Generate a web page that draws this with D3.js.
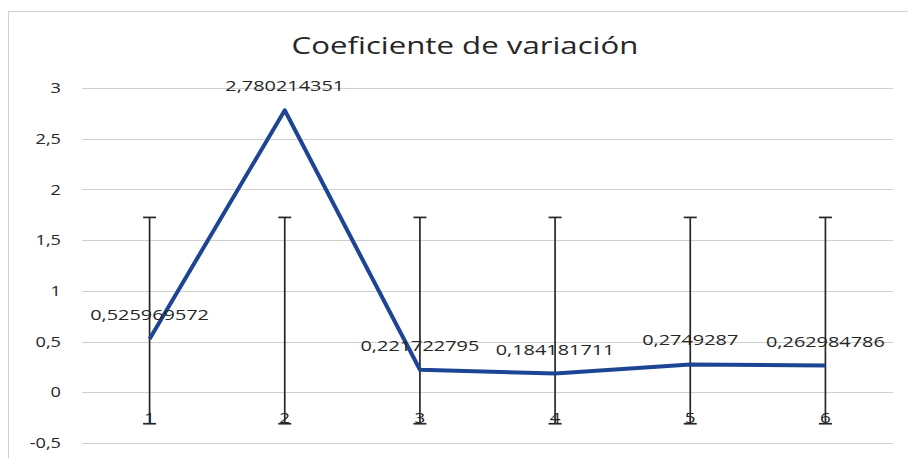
<!DOCTYPE html>
<html>
<head>
<meta charset="utf-8">
<script src="https://cdn.jsdelivr.net/npm/d3@7"></script>
<style>
  html, body { margin: 0; padding: 0; background: #fff; }
  svg { display: block; }
  text { font-family: "Open Sans", "Liberation Sans", sans-serif; fill: #262626; }
</style>
</head>
<body>
<svg id="chart" width="908" height="458"></svg>
<script>
// Categories and series values
const categories = ["1", "2", "3", "4", "5", "6"];
const values = [0.525969572, 2.780214351, 0.221722795, 0.184181711, 0.2749287, 0.262984786];
// Error bar ends (same span drawn for every category)
const errHigh = [1.724, 1.724, 1.724, 1.724, 1.724, 1.724];
const errLow = [-0.31, -0.31, -0.31, -0.31, -0.31, -0.31];
// Value axis ticks
const yTicks = [-0.5, 0, 0.5, 1, 1.5, 2, 2.5, 3];
const title = "Coeficiente de variación";

const W = 908, H = 458;
const plot = { left: 82, right: 893, top: 88, bottom: 443 };
const stretch = 1.3; // horizontal text widening

const svg = d3.select("#chart");

// chart frame
svg.append("rect")
  .attr("x", 8.5).attr("y", 11.5)
  .attr("width", W + 10).attr("height", H + 10)
  .attr("fill", "none").attr("stroke", "#d0d0d0").attr("stroke-width", 1);

const x = d3.scaleBand().domain(categories).range([plot.left, plot.right]);
const xc = c => x(c) + x.bandwidth() / 2;
const y = d3.scaleLinear().domain([-0.5, 3]).range([plot.bottom, plot.top]);

const fmt = v => String(v).replace(".", ",");

// helper: stretched text placed at (px, py)
function stretchedText(sel, px, py) {
  return sel.attr("transform", (d, i) => `translate(${px(d, i)},${py(d, i)}) scale(${stretch},1)`);
}

// gridlines
svg.append("g").selectAll("line").data(yTicks).join("line")
  .attr("x1", plot.left).attr("x2", plot.right)
  .attr("y1", d => Math.round(y(d)) + 0.5).attr("y2", d => Math.round(y(d)) + 0.5)
  .attr("stroke", "#cfcfcf").attr("stroke-width", 1.2);

// y tick labels
stretchedText(
  svg.append("g").selectAll("text").data(yTicks).join("text")
    .attr("text-anchor", "end").attr("dominant-baseline", "central")
    .style("font-size", "14px")
    .text(d => fmt(d)),
  () => 61, d => y(d));

// title
svg.append("text")
  .attr("text-anchor", "middle")
  .style("font-size", "24px")
  .attr("transform", `translate(465,54) scale(${stretch},1)`)
  .text(title);

// error bars
const eb = svg.append("g").attr("stroke", "#262626").attr("stroke-width", 1.7);
categories.forEach((c, i) => {
  const cx = xc(c);
  eb.append("line").attr("x1", cx).attr("x2", cx).attr("y1", y(errHigh[i])).attr("y2", y(errLow[i]));
  eb.append("line").attr("x1", cx - 6.5).attr("x2", cx + 6.5).attr("y1", y(errHigh[i])).attr("y2", y(errHigh[i]));
  eb.append("line").attr("x1", cx - 6.5).attr("x2", cx + 6.5).attr("y1", y(errLow[i])).attr("y2", y(errLow[i]));
});

// category labels
stretchedText(
  svg.append("g").selectAll("text").data(categories).join("text")
    .attr("text-anchor", "middle")
    .style("font-size", "14.5px")
    .text(d => d),
  d => xc(d), () => 423);

// series line
const line = d3.line().x((d, i) => xc(categories[i])).y(d => y(d));
svg.append("path")
  .datum(values)
  .attr("d", line)
  .attr("fill", "none")
  .attr("stroke", "#1d4593")
  .attr("stroke-width", 4)
  .attr("stroke-linejoin", "round");

// data labels
stretchedText(
  svg.append("g").selectAll("text").data(values).join("text")
    .attr("text-anchor", "middle").attr("dominant-baseline", "central")
    .style("font-size", "15.3px")
    .text(d => fmt(d)),
  (d, i) => xc(categories[i]), d => y(d) - 25);
</script>
</body>
</html>
